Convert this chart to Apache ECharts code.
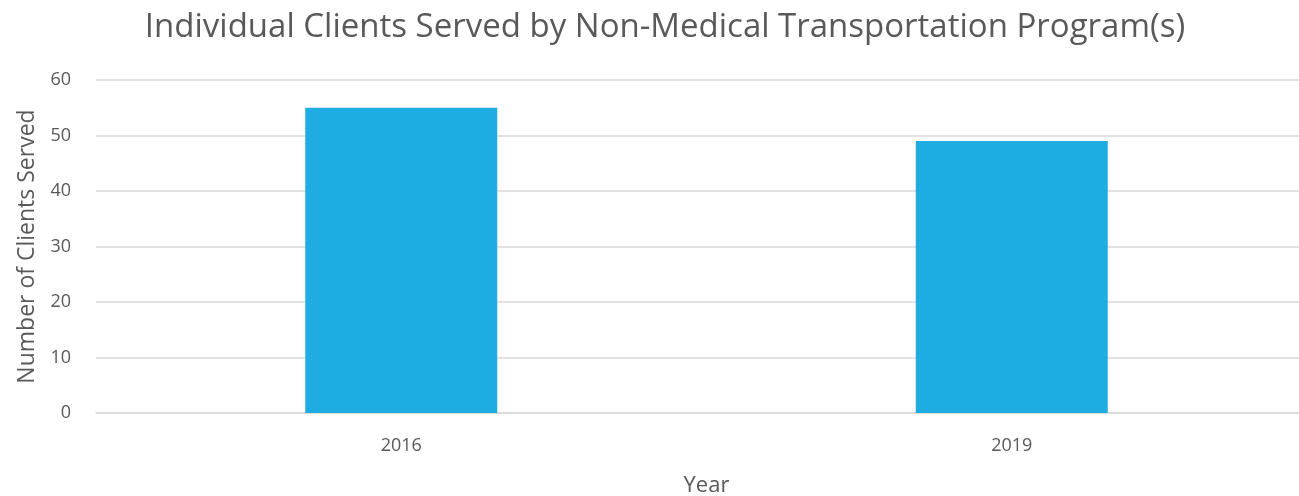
<!DOCTYPE html>
<html><head><meta charset="utf-8">
<script src="https://cdn.jsdelivr.net/npm/echarts@6/dist/echarts.min.js"></script>
<style>html,body{margin:0;padding:0;background:#fff}#c{width:1299px;height:496px}</style>
</head><body><div id="c"></div>
<script>
const categories = ['2016', '2019'];
const clientsServed = [55, 49];
const yTicks = [0, 10, 20, 30, 40, 50, 60];

const FONT = 'Open Sans';
const chart = echarts.init(document.getElementById('c'));
chart.setOption({
  animation: false,
  title: {
    text: 'Individual Clients Served by Non-Medical Transportation Program(s)',
    left: 660, top: 6, textAlign: 'center',
    textStyle: { fontFamily: FONT, fontSize: 33, fontWeight: 'normal', color: '#595959' }
  },
  grid: { left: 96, width: 1221, top: 80, bottom: 83, outerBoundsMode: 'none', containLabel: false },
  xAxis: {
    type: 'category', data: categories,
    name: 'Year', nameLocation: 'middle', nameGap: 62,
    nameTextStyle: { fontFamily: FONT, fontSize: 22, color: '#595959' },
    axisLine: { show: true, lineStyle: { color: '#d9d9d9', width: 1.5 } },
    axisTick: { show: false },
    axisLabel: { fontFamily: FONT, fontSize: 18, color: '#595959', margin: 24 }
  },
  yAxis: {
    type: 'value', min: yTicks[0], max: yTicks[yTicks.length - 1], interval: 10,
    name: 'Number of Clients Served', nameLocation: 'middle', nameGap: 57,
    nameTextStyle: { fontFamily: FONT, fontSize: 23, color: '#595959' },
    axisLine: { show: false }, axisTick: { show: false },
    axisLabel: { fontFamily: FONT, fontSize: 18, color: '#595959', margin: 25 },
    splitLine: { lineStyle: { color: '#d9d9d9', width: 1.5 } }
  },
  series: [{
    type: 'bar', data: clientsServed, barWidth: 192,
    itemStyle: { color: '#1eace3' }
  }]
});
</script></body></html>
